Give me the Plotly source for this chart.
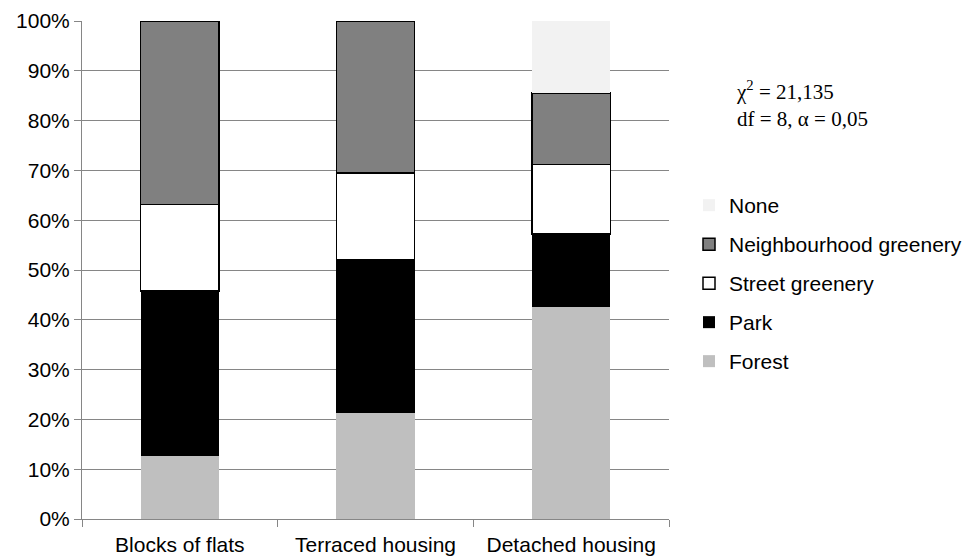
import plotly.graph_objects as go

categories = ["Blocks of flats", "Terraced housing", "Detached housing"]
forest = [12.6, 21.3, 42.6]
park = [33.2, 30.7, 14.6]
street = [17.4, 17.5, 14.0]
neighbourhood = [36.8, 30.5, 14.3]
none_vals = [0.0, 0.0, 14.5]
y_ticks = [0, 10, 20, 30, 40, 50, 60, 70, 80, 90, 100]
y_tick_labels = [f"{v}%" for v in y_ticks]

series = [
    ("Forest", forest, "#BFBFBF", None),
    ("Park", park, "#000000", None),
    ("Street greenery", street, "#FFFFFF", "#000000"),
    ("Neighbourhood greenery", neighbourhood, "#808080", "#000000"),
    ("None", none_vals, "#F2F2F2", None),
]

fig = go.Figure()
n = len(series)
for i, (name, vals, color, line) in enumerate(series):
    fig.add_trace(go.Bar(
        x=categories, y=vals, name=name, legendgroup=f"g{i}", legendrank=n - i,
        marker=dict(color=color,
                    line=dict(color=line if line else color, width=1.5 if line else 0)),
    ))

axis_gray = "#868686"
fig.update_layout(
    barmode="stack",
    bargap=0.6,
    width=966, height=559,
    margin=dict(l=82, r=297, t=21, b=40, autoexpand=False),
    plot_bgcolor="white", paper_bgcolor="white",
    font=dict(family="Liberation Sans, Arial, sans-serif", size=21, color="#000000"),
    legend=dict(
        xref="container", yref="container",
        x=689 / 966, y=1 - 185 / 559, xanchor="left", yanchor="top",
        traceorder="grouped", tracegroupgap=8.7,
        font=dict(size=21, color="#000000"),
        itemwidth=30,
    ),
    xaxis=dict(
        showline=True, linecolor=axis_gray, linewidth=1,
        ticks="outside", tickson="boundaries", ticklen=7, tickcolor=axis_gray,
        showgrid=False, automargin=False, ticklabelstandoff=7,
    ),
    yaxis=dict(
        range=[0, 100], tickvals=y_ticks, ticktext=y_tick_labels,
        showline=True, linecolor=axis_gray, linewidth=1,
        ticks="outside", ticklen=7, tickcolor=axis_gray,
        showgrid=True, gridcolor=axis_gray, gridwidth=1,
        zeroline=False, automargin=False,
    ),
    annotations=[
        dict(
            xref="paper", yref="paper", x=(734 - 82) / 587, y=(519 - 75) / 498,
            xanchor="left", yanchor="top", showarrow=False, align="left",
            text="χ<sup>2</sup> = 21,135<br>df = 8, α = 0,05",
            font=dict(family="Liberation Serif, Times New Roman, serif", size=21, color="#000000"),
        )
    ],
)

fig.write_html("out.html", config={"displayModeBar": False},
               post_script="document.body.style.margin='0';")
